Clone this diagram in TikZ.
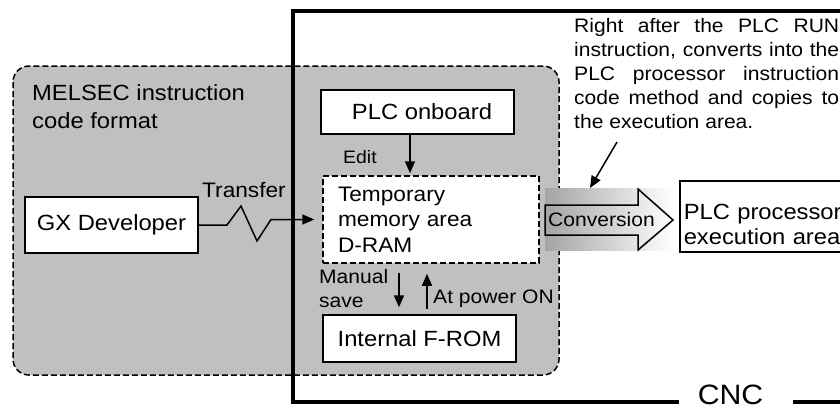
\documentclass[tikz,border=0pt]{standalone}
\usepackage{fontspec}
\setmainfont{Liberation Sans}[FakeStretch=1.08]
\usetikzlibrary{arrows.meta,calc}
\definecolor{regiongray}{HTML}{C0C0C0}
\definecolor{gradgray}{HTML}{A4A4A4}
\newcommand\myfs[2]{\fontsize{#1}{#2}\selectfont}
\begin{document}
\begin{tikzpicture}[x=1pt,y=-1pt,
  box/.style={draw,line width=1.5pt,fill=white,inner sep=0pt},
  arr/.style={line width=1.5pt,-{Triangle[length=12pt,width=10pt]}},
  lbl/.style={inner sep=0pt,anchor=base west,align=left},
  frameline/.style={line width=4pt},
  dashy/.style={dash pattern=on 6pt off 3pt}]
\clip (0,0) rectangle (840,405);
\fill[white] (0,0) rectangle (840,405);
% MELSEC region
\draw[line width=1.5pt, dashy, fill=regiongray, rounded corners=16pt] (13,66) rectangle (559,375);
% CNC frame
\node[lbl, anchor=base, font=\myfs{28}{30}] (cnc) at (730.5,404) {CNC};
\draw[frameline] (850,11) -- (293,11) -- (293,402) -- (679,402);
\draw[frameline] (793,402) -- (850,402);
% boxes
\node[box, minimum width=173pt, minimum height=56pt, font=\myfs{22}{26}] (gx) at (111.5,225) {GX Developer};
\node[box, minimum width=193pt, minimum height=44pt, font=\myfs{22}{25}] (onboard) at (417.5,112) {\hspace*{9pt}PLC onboard};
\node[box, dashy, minimum width=216pt, minimum height=87pt, text width=186pt, inner xsep=15pt, align=left, font=\myfs{21}{25.5}] (temp) at (431,219.5) {Temporary\\memory area\\D-RAM};
\node[box, minimum width=193pt, minimum height=47pt, font=\myfs{22}{26}] (rom) at (419.5,338.5) {Internal F-ROM};
\node[box, anchor=west, minimum height=71pt, text width=200pt, inner xsep=4pt, align=left, text depth=10pt, font=\myfs{22}{25}] (plcx) at (679,216.5) {PLC processor\\execution area};
% conversion arrow
\shade[left color=gradgray, right color=white] (545,188) rectangle (673,250);
\draw[line width=1.5pt, line join=miter] (545,205) -- (638,205) -- (638,189) -- (673,220) -- (638,250) -- (638,235) -- (545,235) -- cycle;
\node[inner sep=0pt, font=\myfs{19.5}{22}] (conv) at (601.5,220) {Conversion};
% labels
\node[lbl, font=\myfs{22}{28}] (melsec) at (32,128) {MELSEC instruction\\code format};
\node[lbl, font=\myfs{18}{20}] (edit) at (343,163) {Edit};
\node[lbl, font=\myfs{21}{24}] (transfer) at (202,197) {Transfer};
\node[lbl, font=\myfs{19.5}{24}] (manual) at (319,307) {Manual\\save};
\node[lbl, font=\myfs{19.5}{24}] (poweron) at (433,303) {At power ON};
\node[lbl, text width=265pt, align=justify, font=\myfs{19.5}{24}] (note) at (574,32)
  {\hyphenpenalty=10000 Right after the PLC RUN\linebreak instruction, converts into the\linebreak PLC processor instruction\linebreak code method and copies to\linebreak the execution area.};
% connectors
\draw[arr, shorten >=2pt] ([xshift=-7.5pt]onboard.south) -- ([xshift=-7.5pt]onboard.south |- temp.north);
\draw[arr, shorten <=9pt, shorten >=7pt] ([xshift=-32pt]temp.south) -- ([xshift=-32pt]temp.south |- rom.north);
\draw[arr, shorten <=5pt, shorten >=10pt] ([xshift=-4pt]temp.south |- rom.north) -- ([xshift=-4pt]temp.south);
\draw[arr, shorten >=8pt] (gx.east) -- (227,225) -- (241,206) -- (257,241) -- (271,219.5) -- (temp.west);
\coordinate (ptrtail) at (617,142);
\coordinate (ptrhead) at (590,188);
\draw[arr] (ptrtail) -- (ptrhead);
\end{tikzpicture}
\end{document}
